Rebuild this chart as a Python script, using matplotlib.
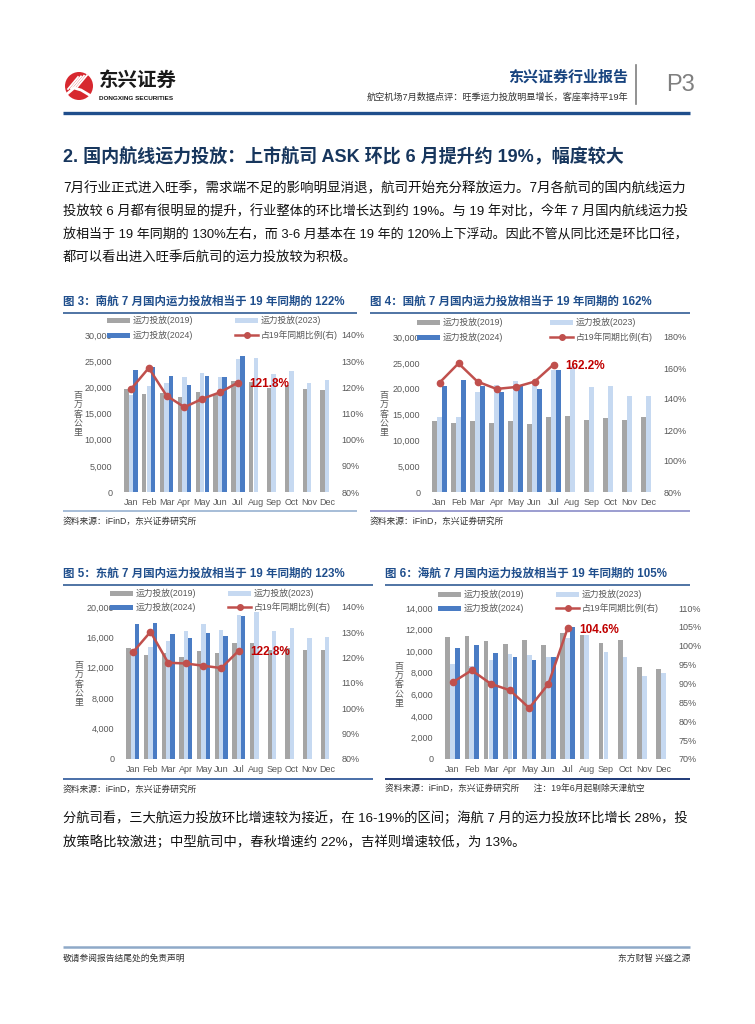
import matplotlib
matplotlib.use('Agg')
import matplotlib.pyplot as plt
import numpy as np
from matplotlib.patches import Rectangle, Circle
from matplotlib.ticker import FuncFormatter

plt.rcParams['font.family'] = ['Liberation Sans', 'Noto Sans CJK SC']

W, H = 755, 1024

months = ['Jan', 'Feb', 'Mar', 'Apr', 'May', 'Jun', 'Jul', 'Aug', 'Sep', 'Oct', 'Nov', 'Dec']
series_names = ['运力投放(2019)', '运力投放(2023)', '运力投放(2024)', '占19年同期比例(右)']

# 南航 (百万客公里)
csn_2019 = [19600, 18800, 18900, 18200, 19200, 18600, 21300, 21000, 19900, 20500, 19600, 19400]
csn_2023 = [18600, 20300, 20900, 21900, 22800, 21900, 25400, 25700, 22500, 23200, 20800, 21400]
csn_2024 = [23300, 23900, 22100, 20500, 22200, 22000, 26000]
csn_ratio = [119.3, 127.4, 116.8, 112.4, 115.6, 118.1, 121.8]

# 国航
cca_2019 = [13700, 13300, 13700, 13300, 13700, 13200, 14600, 14700, 14000, 14300, 14000, 14500]
cca_2023 = [14500, 14600, 19400, 20800, 21400, 20800, 23700, 24300, 20400, 20600, 18500, 18600]
cca_2024 = [20600, 21600, 20600, 19400, 20500, 19900, 23600]
cca_ratio = [150.5, 163.0, 151.2, 146.5, 147.7, 151.2, 162.2]

# 东航
cea_2019 = [14600, 13700, 13900, 13400, 14200, 13900, 15300, 15200, 14400, 14600, 14300, 14400]
cea_2023 = [13500, 14700, 15500, 16800, 17700, 17000, 19000, 19300, 16900, 17200, 15900, 16000]
cea_2024 = [17800, 17900, 16400, 15900, 16600, 16200, 18800]
cea_ratio = [122.1, 130.2, 118.0, 117.7, 116.8, 115.9, 122.8]

# 海航
hna_2019 = [11300, 11400, 10900, 10700, 11000, 10600, 11700, 11500, 10800, 11000, 8500, 8300]
hna_2023 = [8800, 8650, 9200, 9700, 9600, 9500, 11200, 11500, 9900, 9500, 7700, 8000]
hna_2024 = [10300, 10600, 9800, 9500, 9150, 9500, 12200]
hna_ratio = [90.3, 93.5, 89.9, 88.2, 83.5, 89.9, 104.6]

GREY = '#a5a5a5'
LIGHT = '#c6d9f1'
BLUE = '#4a7cc4'
RED = '#c0504d'
TXT = '#595959'
TITLE_BLUE = '#1f4e8c'

fig = plt.figure(figsize=(7.55, 10.24), dpi=100)


def fx(x):
    return x / W


def fy(y):
    return 1 - y / H


def draw_chart(box, v19, v23, v24, ratio, ymax, ystep, rlim, rstep, label):
    x0, x1, y0, y1 = box
    ax = fig.add_axes([fx(x0), fy(y1), (x1 - x0) / W, (y1 - y0) / H])
    idx = np.arange(12)
    ax.bar(idx - 0.25, v19, width=0.24, color=GREY)
    ax.bar(idx, v23, width=0.24, color=LIGHT)
    ax.bar(np.arange(len(v24)) + 0.25, v24, width=0.24, color=BLUE)
    ax.set_xlim(-0.5, 11.5)
    ax.set_ylim(0, ymax)
    ax.set_yticks(np.arange(0, ymax + 1, ystep))
    ax.yaxis.set_major_formatter(FuncFormatter(lambda v, p: f'{v:,.0f}'))
    ax.set_xticks(idx)
    ax.set_xticklabels(months)
    for s in ax.spines.values():
        s.set_visible(False)
    ax.tick_params(axis='y', length=0, labelsize=6.5, colors=TXT, pad=7)
    ax.tick_params(axis='x', length=0, labelsize=6.5, colors=TXT, pad=4)

    ax2 = ax.twinx()
    ax2.plot(np.arange(len(ratio)), ratio, color=RED, lw=1.8, marker='o', ms=4.5)
    ax2.set_ylim(*rlim)
    ax2.set_yticks(np.arange(rlim[0], rlim[1] + 0.1, rstep))
    ax2.yaxis.set_major_formatter(FuncFormatter(lambda v, p: f'{v:.0f}%'))
    for s in ax2.spines.values():
        s.set_visible(False)
    ax2.tick_params(axis='y', length=0, labelsize=6.5, colors=TXT, pad=4)
    ax2.annotate(label, (6, ratio[6]), xytext=(8.5, -1), textcoords='offset points',
                 ha='left', va='center', color='#c00000', fontsize=8.5, fontweight='bold')


draw_chart((122, 336, 335, 492), csn_2019, csn_2023, csn_2024, csn_ratio,
           30000, 5000, (80, 140), 10, '121.8%')
draw_chart((430, 658, 337, 492), cca_2019, cca_2023, cca_2024, cca_ratio,
           30000, 5000, (80, 180), 20, '162.2%')
draw_chart((124, 336, 607, 759), cea_2019, cea_2023, cea_2024, cea_ratio,
           20000, 4000, (80, 140), 10, '122.8%')
draw_chart((443, 673, 608, 759), hna_2019, hna_2023, hna_2024, hna_ratio,
           14000, 2000, (70, 110), 5, '104.6%')

# page overlay in pixel coordinates
pg = fig.add_axes([0, 0, 1, 1], zorder=10)
pg.set_xlim(0, W)
pg.set_ylim(H, 0)
pg.axis('off')
pg.patch.set_alpha(0)
renderer = fig.canvas.get_renderer()


def hline(x0, x1, y, color, lw):
    pg.plot([x0, x1], [y, y], color=color, lw=lw, solid_capstyle='butt')


def txt(x, y, s, size, **kw):
    kw.setdefault('va', 'center')
    return pg.text(x, y, s, fontsize=size, **kw)


def fit_line(x, y, s, size, width, **kw):
    # stretch a full body line to the column width, like justified text
    t = txt(x, y, s, size, **kw)
    w = t.get_window_extent(renderer=renderer).width
    t.set_fontsize(size * width / w)
    return t


def draw_legend(xa, xb, ya, yb):
    items = [(xa, ya, GREY, series_names[0]), (xb, ya, LIGHT, series_names[1]),
             (xa, yb, BLUE, series_names[2]), (xb, yb, None, series_names[3])]
    for x, y, c, s in items:
        if c is None:
            pg.plot([x, x + 23], [y, y], color=RED, lw=1.8)
            pg.plot([x + 11.5], [y], marker='o', ms=4, color=RED)
        else:
            pg.add_patch(Rectangle((x, y - 2.5), 23, 5, color=c, lw=0))
        txt(x + 26, y, s, 6.3, color=TXT)


draw_legend(107, 235, 320, 335)
draw_legend(417, 550, 322, 337)
draw_legend(110, 228, 593, 607)
draw_legend(438, 556, 594, 608)

# vertical unit labels
for x, y in [(78, 414), (384, 414), (79, 684), (399, 685)]:
    txt(x, y, '\n'.join('百万客公里'), 6.4, ha='center', color=TXT, linespacing=1.05)

# header
pg.add_patch(Circle((79, 86), 14, color='#d7282f', lw=0))
for k in range(4):
    pg.plot([68 + k * 3, 78 + k * 3], [89 - k * 0.6, 77 - k * 0.6], color='white', lw=1.3)
pg.plot([67, 74, 81, 91], [94, 88, 90, 96], color='white', lw=2)
txt(99, 81, '东兴证券', 14, fontweight='bold', color='#1a1a1a')
txt(99, 98, 'DONGXING SECURITIES', 4.6, fontweight='bold', color='#1a1a1a')
txt(628, 77, '东兴证券行业报告', 10.8, fontweight='bold', color='#17437e', ha='right')
txt(628, 97, '航空机场7月数据点评：旺季运力投放明显增长，客座率持平19年', 6.6,
    color='#333333', ha='right')
pg.plot([636, 636], [65, 104], color='#7f7f7f', lw=1.2)
txt(666, 85, 'P3', 17, color='#7f7f7f')
hline(63, 690, 113, '#1f4e8c', 2.4)

# section title
txt(63, 157, '2. 国内航线运力投放：上市航司 ASK 环比 6 月提升约 19%，幅度较大', 13.0,
    fontweight='bold', color='#17365d')

body1 = ['7月行业正式进入旺季，需求端不足的影响明显消退，航司开始充分释放运力。7月各航司的国内航线运力',
         '投放较 6 月都有很明显的提升，行业整体的环比增长达到约 19%。与 19 年对比，今年 7 月国内航线运力投',
         '放相当于 19 年同期的 130%左右，而 3-6 月基本在 19 年的 120%上下浮动。因此不管从同比还是环比口径，',
         '都可以看出进入旺季后航司的运力投放较为积极。']
for i, line in enumerate(body1):
    if i < len(body1) - 1:
        fit_line(63, 188 + i * 23.5, line, 9.6, 627, color='#111111')
    else:
        txt(63, 188 + i * 23.5, line, 9.6, color='#111111')

# figure titles and rules
titles = ['图 3：南航 7 月国内运力投放相当于 19 年同期的 122%',
          '图 4：国航 7 月国内运力投放相当于 19 年同期的 162%',
          '图 5：东航 7 月国内运力投放相当于 19 年同期的 123%',
          '图 6：海航 7 月国内运力投放相当于 19 年同期的 105%']
blocks = [(63, 357, 302, 511), (370, 690, 302, 511), (63, 373, 574, 779), (385, 690, 574, 779)]
bottom_cols = ['#a6bdd7', '#9b9dd0', '#4a6fa8', '#1f3a78']
for t, (a, b, ty, by), bc in zip(titles, blocks, bottom_cols):
    txt(a, ty, t, 8.3, fontweight='bold', color=TITLE_BLUE)
    hline(a, b, ty + 11, TITLE_BLUE, 1.1)
    hline(a, b, by, bc, 1.4)

src = '资料来源：iFinD，东兴证券研究所'
txt(63, 521, src, 6.3, color='#333333')
txt(370, 521, src, 6.3, color='#333333')
txt(63, 789, src, 6.3, color='#333333')
txt(385, 789, src + '      注：19年6月起剔除天津航空', 6.3, color='#333333')

body2 = ['分航司看，三大航运力投放环比增速较为接近，在 16-19%的区间；海航 7 月的运力投放环比增长 28%，投',
         '放策略比较激进；中型航司中，春秋增速约 22%，吉祥则增速较低，为 13%。']
fit_line(63, 818, body2[0], 9.6, 627, color='#111111')
txt(63, 842, body2[1], 9.6, color='#111111')

# footer
hline(63, 690, 947, '#8ea9c8', 1.8)
txt(63, 958, '敬请参阅报告结尾处的免责声明', 6.3, color='#333333')
txt(690, 958, '东方财智 兴盛之源', 6.3, color='#333333', ha='right')

fig.savefig('out.png', dpi=100)
